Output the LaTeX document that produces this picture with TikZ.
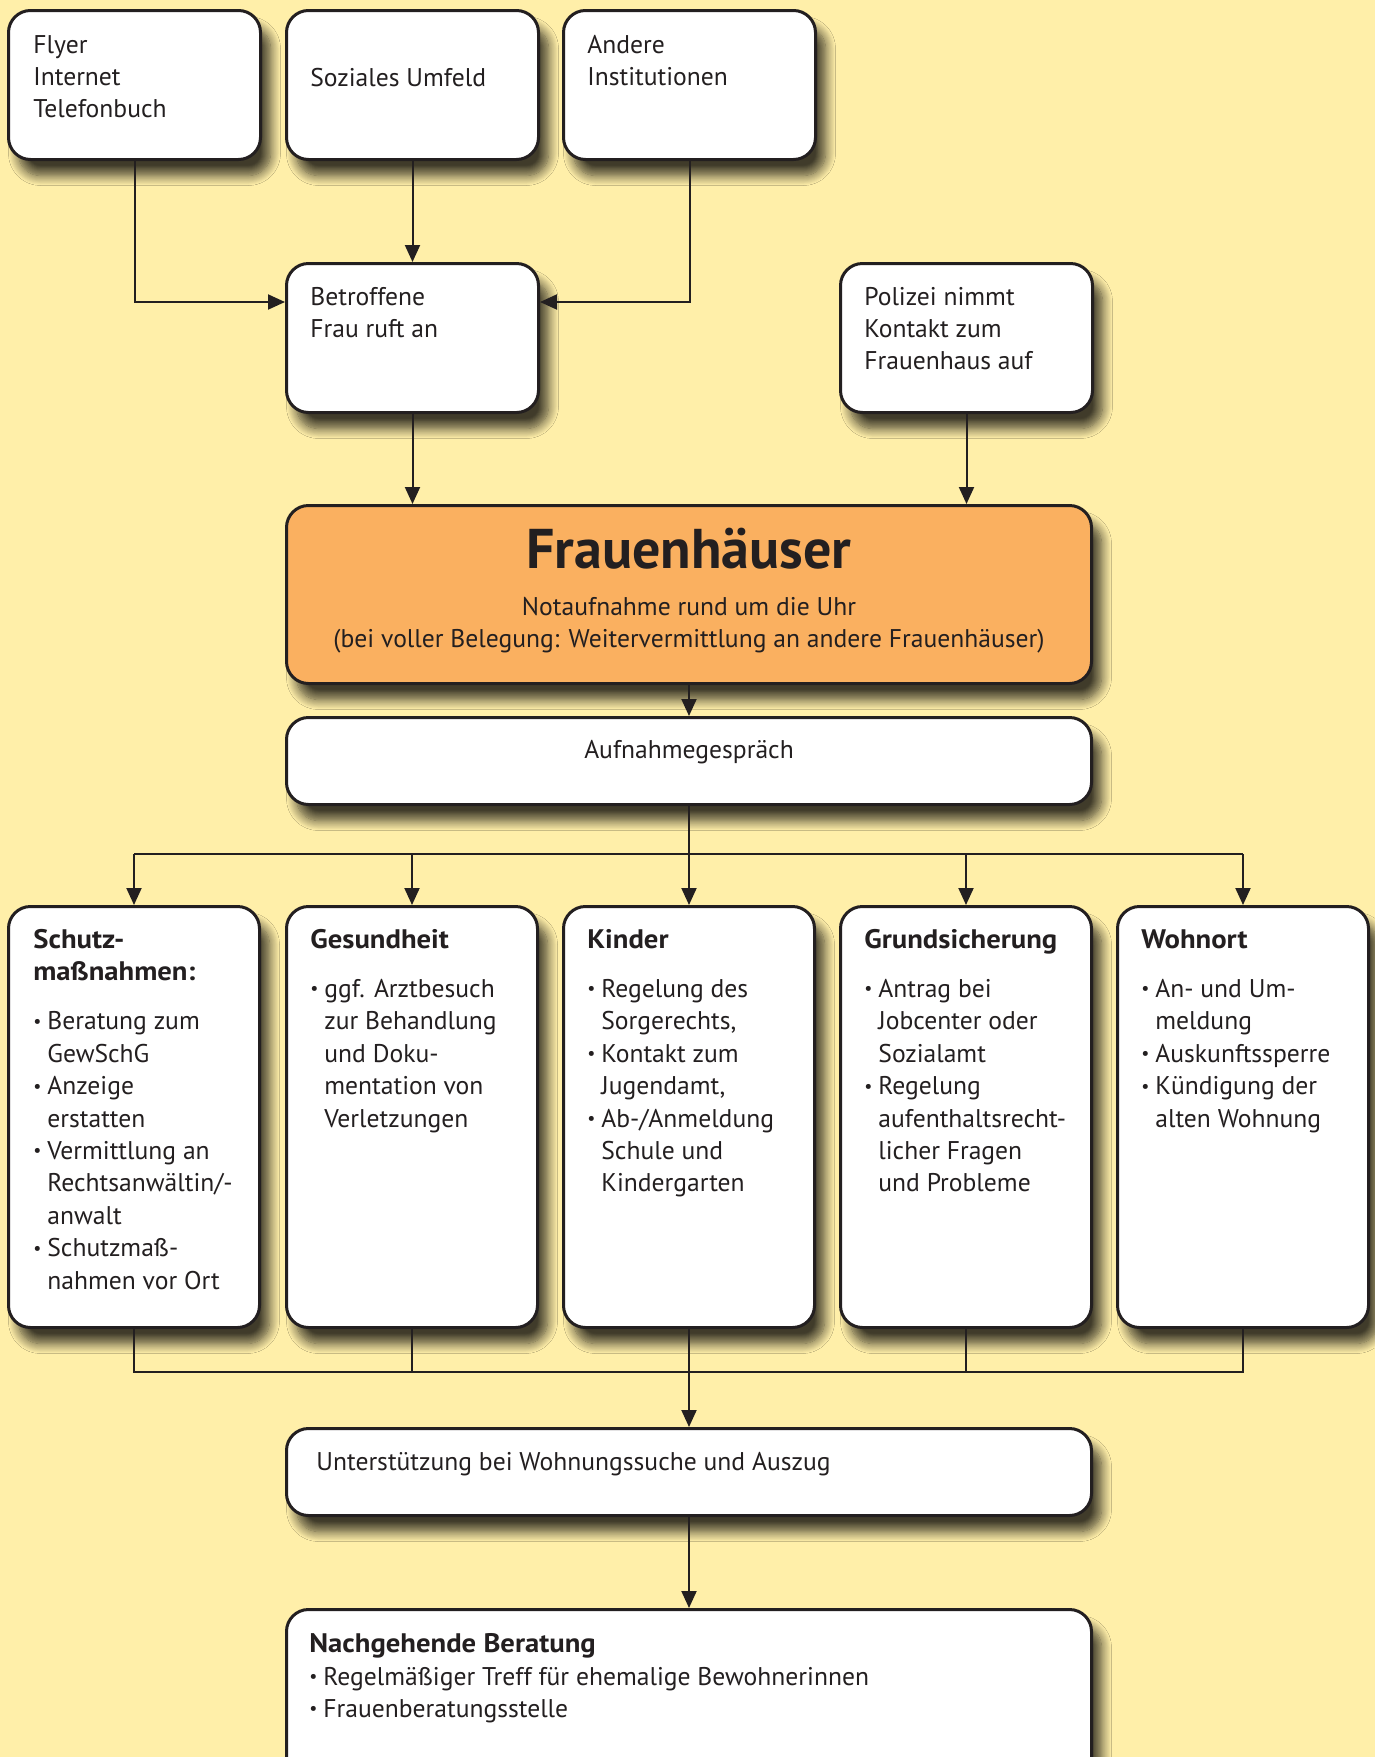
\documentclass[tikz,border=0pt]{standalone}
\usepackage{fontspec}
\setmainfont{PT Sans}
\usetikzlibrary{arrows.meta,shadows.blur,calc}

\definecolor{bg}{RGB}{255,239,169}
\definecolor{orangebox}{RGB}{250,176,96}
\definecolor{ink}{RGB}{35,31,32}

% bullet with hanging indent width
\newcommand\itm{\makebox[7pt][l]{\raisebox{.1em}{\scalebox{.7}{•}}}}
\newcommand\cont{\hspace*{7pt}}
% heading in bold, a little wider
\newcommand\hd[1]{{\fontsize{13.4}{16}\selectfont\scalebox{1.07}[1]{\bfseries #1}}}
% top-aligned text block: its baseline is that of its first line
\newcommand\blk[2][300pt]{\parbox[t]{#1}{\raggedright #2}}

\tikzset{
  card/.style={draw=ink, line width=1.5pt, rounded corners=11pt, fill=white,
    anchor=north west, inner sep=0pt,
    blur shadow={shadow xshift=5pt, shadow yshift=-8pt, shadow blur radius=5pt,
      shadow opacity=75, shadow blur steps=12}},
  topcard/.style={card, minimum width=126pt, minimum height=74.5pt},
  colcard/.style={card, minimum width=125.5pt, minimum height=210.5pt},
  widecard/.style={card, minimum width=402.5pt},
  txt/.style={anchor=base west, inner sep=0pt, text=ink,
    font=\fontsize{12.8}{16.2}\selectfont},
  ctxt/.style={anchor=base, inner sep=0pt, text=ink,
    font=\fontsize{12.8}{16.2}\selectfont},
  link/.style={draw=ink, line width=1pt},
  arr/.style={link, -{Triangle[length=8.5pt,width=7.5pt]}},
}

\begin{document}
\begin{tikzpicture}[x=0.5pt,y=-0.5pt]
  \fill[bg] (0,0) rectangle (1375,1757);
  \useasboundingbox (0,0) rectangle (1375,1757);
  \clip (0,0) rectangle (1375,1757);

  % sources
  \node[topcard] (flyer) at (7,9) {};
  \node[topcard] (umfeld) at (285,9) {};
  \node[topcard] (andere) at (562,9) {};
  \node[topcard] (frau) at (285,262) {};
  \node[topcard] (polizei) at (839,262) {};

  \node[txt] (flyertxt) at ([xshift=13pt,yshift=-22pt]flyer.north west) {\blk{Flyer\\Internet\\Telefonbuch}};
  \node[txt] (umfeldtxt) at ([xshift=12.5pt,yshift=-38.5pt]umfeld.north west) {Soziales Umfeld};
  \node[txt] (anderetxt) at ([xshift=12.5pt,yshift=-22pt]andere.north west) {\blk{Andere\\Institutionen}};
  \node[txt] (frautxt) at ([xshift=12.5pt,yshift=-21.5pt]frau.north west) {\blk{Betroffene\\Frau ruft an}};
  \node[txt] (polizeitxt) at ([xshift=12.5pt,yshift=-21.5pt]polizei.north west) {\blk{Polizei nimmt\\Kontakt zum\\Frauenhaus auf}};

  % shelter
  \node[widecard, minimum height=89pt, fill=orangebox] (haus) at (285,504) {};
  \node[anchor=base, inner sep=0pt, text=ink, font=\bfseries\fontsize{28}{32}\selectfont] (haustitle)
    at ([yshift=-32pt]haus.north) {Frauenhäuser};
  \node[ctxt] (haussub) at ([yshift=-55.5pt]haus.north)
    {\parbox[t]{400pt}{\centering Notaufnahme rund um die Uhr\\(bei voller Belegung: Weitervermittlung an andere Frauenhäuser)}};

  \node[widecard, minimum height=43.5pt] (aufnahme) at (285,716) {};
  \node[ctxt] (aufnahmetxt) at ([yshift=-21pt]aufnahme.north) {Aufnahmegespräch};

  % fields of support
  \node[colcard] (schutz) at (7,905) {};
  \node[colcard] (gesund) at (285,905) {};
  \node[colcard] (kinder) at (562,905) {};
  \node[colcard] (grund) at (839,905) {};
  \node[colcard] (wohnort) at (1116,905) {};

  \node[txt] (schutztxt) at ([xshift=13pt,yshift=-21.5pt]schutz.north west)
    {\blk{\hd{Schutz-}\\\hd{maßnahmen:}\\[8.5pt]
     \itm Beratung zum\\\cont GewSchG\\
     \itm Anzeige\\\cont erstatten\\
     \itm Vermittlung an\\\cont Rechtsanwältin/-\\\cont anwalt\\
     \itm Schutzmaß-\\\cont nahmen vor Ort}};
  \node[txt] (gesundtxt) at ([xshift=12.5pt,yshift=-21.5pt]gesund.north west)
    {\blk{\hd{Gesundheit}\\[8.5pt]
     \itm ggf. Arztbesuch\\\cont zur Behandlung\\\cont und Doku-\\\cont mentation von\\\cont Verletzungen}};
  \node[txt] (kindertxt) at ([xshift=12.5pt,yshift=-21.5pt]kinder.north west)
    {\blk{\hd{Kinder}\\[8.5pt]
     \itm Regelung des\\\cont Sorgerechts,\\
     \itm Kontakt zum\\\cont Jugendamt,\\
     \itm Ab-/Anmeldung\\\cont Schule und\\\cont Kindergarten}};
  \node[txt] (grundtxt) at ([xshift=12.5pt,yshift=-21.5pt]grund.north west)
    {\blk{\hd{Grundsicherung}\\[8.5pt]
     \itm Antrag bei\\\cont Jobcenter oder\\\cont Sozialamt\\
     \itm Regelung\\\cont aufenthaltsrecht-\\\cont licher Fragen\\\cont und Probleme}};
  \node[txt] (wohnorttxt) at ([xshift=12.5pt,yshift=-21.5pt]wohnort.north west)
    {\blk{\hd{Wohnort}\\[8.5pt]
     \itm An- und Um-\\\cont meldung\\
     \itm Auskunftssperre\\
     \itm Kündigung der\\\cont alten Wohnung}};

  % after the stay
  \node[widecard, minimum height=43.5pt] (umzug) at (285,1427) {};
  \node[txt] (umzugtxt) at ([xshift=15.5pt,yshift=-21.5pt]umzug.north west)
    {Unterstützung bei Wohnungssuche und Auszug};

  \node[widecard, minimum height=100pt] (nach) at (285,1608) {};
  \node[txt] (nachtxt) at ([xshift=12pt,yshift=-22pt]nach.north west)
    {\blk{\hd{Nachgehende Beratung}\\[0.3pt]
     \itm Regelmäßiger Treff für ehemalige Bewohnerinnen\\
     \itm Frauenberatungsstelle}};

  % connectors
  \draw[arr] (flyer.south) |- ([yshift=-20pt]frau.north west);
  \draw[arr] (andere.south) |- ([yshift=-20pt]frau.north east);
  \draw[arr] (umfeld.south) -- (frau.north);
  \draw[arr] (frau.south) -- (frau.south |- haus.north);
  \draw[arr] (polizei.south) -- (polizei.south |- haus.north);
  \draw[arr] (haus.south) -- (aufnahme.north);

  \coordinate (split) at (687.5,854);
  \draw[link] (schutz.north |- split) -- (wohnort.north |- split);
  \draw[arr] (aufnahme.south) -- (kinder.north);
  \foreach \n in {schutz,gesund,grund,wohnort}
    \draw[arr] (\n.north |- split) -- (\n.north);

  \coordinate (join) at (687.5,1372);
  \draw[link] (schutz.south) -- (schutz.south |- join) -- (wohnort.south |- join) -- (wohnort.south);
  \draw[link] (gesund.south) -- (gesund.south |- join);
  \draw[link] (grund.south) -- (grund.south |- join);
  \draw[arr] (kinder.south) -- (umzug.north);
  \draw[arr] (umzug.south) -- (nach.north);
\end{tikzpicture}
\end{document}
